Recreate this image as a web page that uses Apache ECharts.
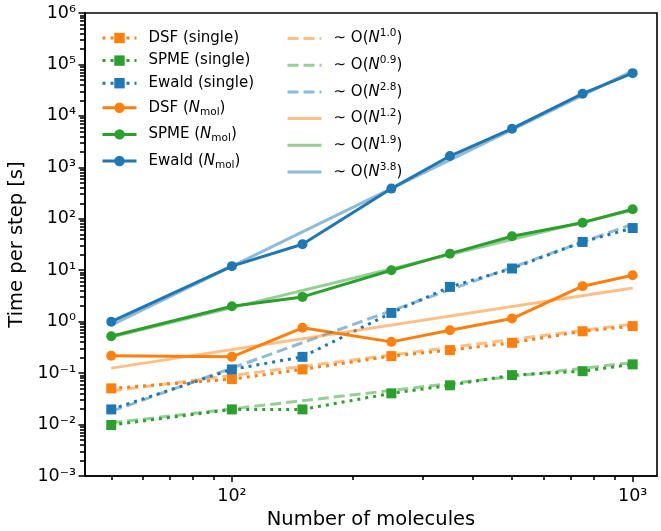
<!DOCTYPE html>
<html>
<head>
<meta charset="utf-8">
<script src="https://cdn.jsdelivr.net/npm/echarts@6/dist/echarts.min.js"></script>
<style>
html, body { margin: 0; padding: 0; background: #fff; }
#chart { width: 661px; height: 531px; }
</style>
</head>
<body>
<div id="chart"></div>
<script>
// number of molecules
var nMol = [50, 100, 150, 250, 350, 500, 750, 1000];
// time per step [s], single
var dsfSingle = [0.0505, 0.0764, 0.118, 0.214, 0.28, 0.388, 0.65, 0.82];
var spmeSingle = [0.0098, 0.0197, 0.0197, 0.0404, 0.058, 0.0914, 0.109, 0.148];
var ewaldSingle = [0.0197, 0.118, 0.207, 1.48, 4.74, 10.8, 35.5, 66];
// time per step [s], N_mol
var dsfNmol = [0.217, 0.207, 0.76, 0.405, 0.68, 1.15, 4.9, 8.0];
var spmeNmol = [0.52, 2.0, 3.03, 10.0, 21, 45.7, 84, 153];
var ewaldNmol = [1.0, 12, 32, 386, 1660, 5640, 27000, 67800];
// fitted power laws (end points)
var fitN = [50, 1000];
var fitDsfSingle = [0.045, 0.9];
var fitSpmeSingle = [0.0108, 0.161];
var fitEwaldSingle = [0.018, 79];
var fitDsfNmol = [0.125, 4.5];
var fitSpmeNmol = [0.5, 148];
var fitEwaldNmol = [0.853, 75000];
var fitExps = ['1.0', '0.9', '2.8', '1.2', '1.9', '3.8'];
// ticks
var xTicks = [100, 1000];
var xTickLabels = ['10\u00B2', '10\u00B3'];
var yTicks = [1e-3, 1e-2, 1e-1, 1, 10, 100, 1e3, 1e4, 1e5, 1e6];
var yTickLabels = ['10\u207B\u00B3', '10\u207B\u00B2', '10\u207B\u00B9', '10\u2070', '10\u00B9',
	'10\u00B2', '10\u00B3', '10\u2074', '10\u2075', '10\u2076'];

var C0 = '#1f77b4', C1 = '#ff7f0e', C2 = '#2ca02c';
var F0 = 'rgba(31,119,180,0.5)', F1 = 'rgba(255,127,14,0.5)', F2 = 'rgba(44,160,44,0.5)';
var FONT = 'DejaVu Sans';

function minorTicks(lo, hi) {
	var out = [];
	for (var e = lo; e < hi; e++) {
		for (var k = 2; k <= 9; k++) out.push(k * Math.pow(10, e));
	}
	return out;
}
function pairs(xs, ys) {
	return xs.map(function (x, i) { return [x, ys[i]]; });
}
function tickLabel(ticks, texts) {
	return function (value) {
		for (var i = 0; i < ticks.length; i++) {
			if (Math.abs(value / ticks[i] - 1) < 1e-6) return texts[i];
		}
		return '';
	};
}

function dataSeries(name, ys, color, marker, dotted) {
	return {
		name: name, type: 'line', data: pairs(nMol, ys),
		symbol: marker, symbolSize: 10, showAllSymbol: true,
		lineStyle: { color: color, width: 3, type: dotted ? [3, 5] : 'solid', cap: 'butt' },
		itemStyle: { color: color, borderWidth: 0 },
		emphasis: { disabled: true }
	};
}
function fitSeries(name, ys, color, dashed) {
	return {
		name: name, type: 'line', data: pairs(fitN, ys),
		symbol: 'none',
		lineStyle: { color: color, width: 3, type: dashed ? [11, 5] : 'solid', cap: 'butt' },
		itemStyle: { color: color },
		emphasis: { disabled: true }
	};
}

var labels = {
	'DSF (single)': '{t|DSF (single)}',
	'SPME (single)': '{t|SPME (single)}',
	'Ewald (single)': '{t|Ewald (single)}',
	'DSF (Nmol)': '{t|DSF (}{i|N}{sub|mol}{t|)}',
	'SPME (Nmol)': '{t|SPME (}{i|N}{sub|mol}{t|)}',
	'Ewald (Nmol)': '{t|Ewald (}{i|N}{sub|mol}{t|)}'
};
var fitNames = ['fit DSF single', 'fit SPME single', 'fit Ewald single', 'fit DSF Nmol', 'fit SPME Nmol', 'fit Ewald Nmol'];
fitNames.forEach(function (n, i) {
	labels[n] = '{t|\u223C O(}{i|N}{sup|' + fitExps[i] + '}{t|)}';
});
var legendRich = {
	t: { fontFamily: FONT, fontSize: 15, color: '#000', lineHeight: 18 },
	i: { fontFamily: FONT, fontSize: 15, fontStyle: 'italic', color: '#000', lineHeight: 18 },
	sub: { fontFamily: FONT, fontSize: 10.5, color: '#000', lineHeight: 18, padding: [8, 0, 0, 0] },
	sup: { fontFamily: FONT, fontSize: 10.5, color: '#000', lineHeight: 18, padding: [0, 0, 10, 0] }
};
function legendBox(names, left, top, gap, hideSymbol) {
	return {
		orient: 'vertical', left: left, top: top, itemGap: gap,
		itemWidth: 34, itemHeight: 13, selectedMode: false,
		data: names.map(function (n) {
			return hideSymbol ? { name: n, itemStyle: { opacity: 0 } } : { name: n };
		}),
		lineStyle: { width: 3 },
		formatter: function (name) { return labels[name]; },
		textStyle: { rich: legendRich, padding: [0, 0, 0, 7] }
	};
}
function minorAxis(min, max, ticks, position, len) {
	return {
		type: 'log', logBase: 10, min: min, max: max, position: position,
		axisLine: { show: false }, axisLabel: { show: false }, splitLine: { show: false },
		axisTick: { show: true, length: len, lineStyle: { color: '#000', width: 1.6 }, customValues: ticks }
	};
}

var chart = echarts.init(document.getElementById('chart'));
chart.setOption({
	animation: false,
	backgroundColor: '#fff',
	grid: {
		left: 85, right: 4, top: 13, bottom: 55, outerBoundsMode: 'none',
		show: true, borderColor: '#000', borderWidth: 1.6
	},
	legend: [
		legendBox(['DSF (single)', 'SPME (single)', 'Ewald (single)', 'DSF (Nmol)', 'SPME (Nmol)', 'Ewald (Nmol)'], 96, 25.5, 7.6, false),
		legendBox(fitNames, 281, 23, 5.7, true)
	],
	xAxis: [
		{
			type: 'log', logBase: 10, min: 43, max: 1150,
			name: 'Number of molecules', nameLocation: 'middle', nameGap: 31,
			nameTextStyle: { fontFamily: FONT, fontSize: 19.5, color: '#000' },
			axisLine: { show: true, lineStyle: { color: '#000', width: 1.6 } },
			axisTick: { show: true, length: 6, lineStyle: { color: '#000', width: 1.5 }, customValues: xTicks },
			axisLabel: {
				show: true, margin: 11, customValues: xTicks, formatter: tickLabel(xTicks, xTickLabels),
				fontFamily: FONT, fontSize: 17.5, color: '#000'
			},
			splitLine: { show: false }
		},
		minorAxis(43, 1150, minorTicks(1, 3), 'bottom', 4)
	],
	yAxis: [
		{
			type: 'log', logBase: 10, min: 1e-3, max: 1e6,
			name: 'Time per step [s]', nameLocation: 'middle', nameGap: 55,
			nameTextStyle: { fontFamily: FONT, fontSize: 19.5, color: '#000' },
			axisLine: { show: true, lineStyle: { color: '#000', width: 1.6 } },
			axisTick: { show: true, length: 6.5, lineStyle: { color: '#000', width: 1.5 }, customValues: yTicks },
			axisLabel: {
				show: true, margin: 9, customValues: yTicks, formatter: tickLabel(yTicks, yTickLabels),
				fontFamily: FONT, fontSize: 17.5, color: '#000'
			},
			splitLine: { show: false }
		},
		minorAxis(1e-3, 1e6, minorTicks(-3, 6), 'left', 5)
	],
	series: [
		dataSeries('DSF (single)', dsfSingle, C1, 'rect', true),
		dataSeries('SPME (single)', spmeSingle, C2, 'rect', true),
		dataSeries('Ewald (single)', ewaldSingle, C0, 'rect', true),
		dataSeries('DSF (Nmol)', dsfNmol, C1, 'circle', false),
		dataSeries('SPME (Nmol)', spmeNmol, C2, 'circle', false),
		dataSeries('Ewald (Nmol)', ewaldNmol, C0, 'circle', false),
		fitSeries('fit DSF single', fitDsfSingle, F1, true),
		fitSeries('fit SPME single', fitSpmeSingle, F2, true),
		fitSeries('fit Ewald single', fitEwaldSingle, F0, true),
		fitSeries('fit DSF Nmol', fitDsfNmol, F1, false),
		fitSeries('fit SPME Nmol', fitSpmeNmol, F2, false),
		fitSeries('fit Ewald Nmol', fitEwaldNmol, F0, false)
	]
});
</script>
</body>
</html>
